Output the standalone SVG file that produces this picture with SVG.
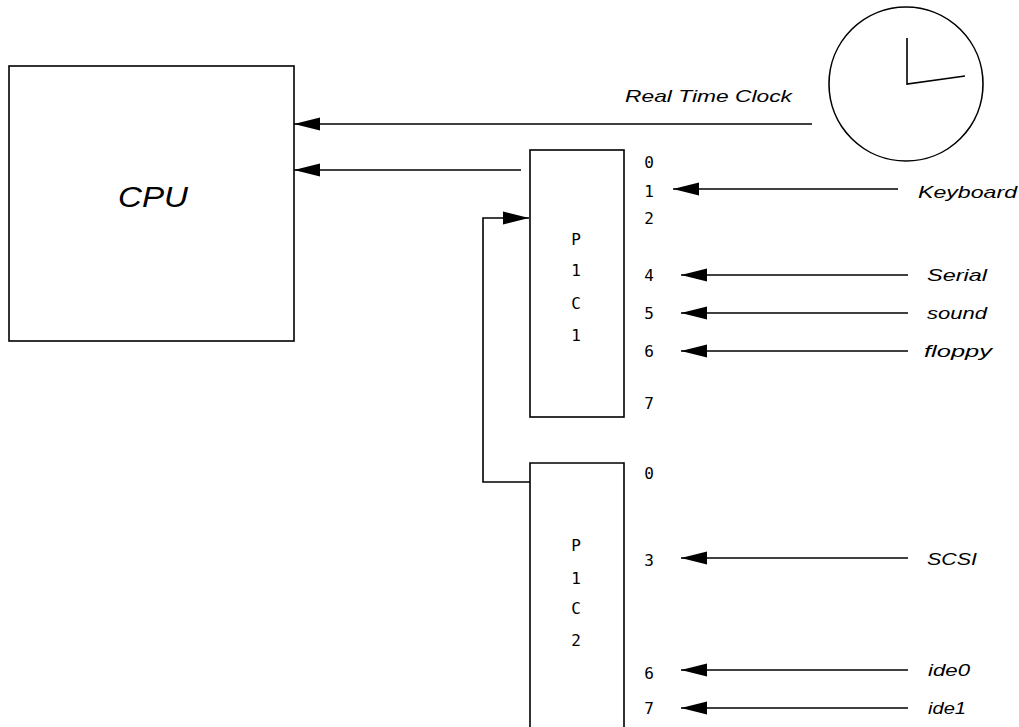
<svg xmlns="http://www.w3.org/2000/svg" width="1019" height="727" viewBox="0 0 1019 727">
<style>
.box{fill:none;stroke:#000;stroke-width:1.6}
.ln{fill:none;stroke:#000;stroke-width:1.6;marker-end:url(#ah)}
.lbl{font-family:"Liberation Sans",Arial,sans-serif;font-style:italic;font-size:17px;fill:#000}
.num{font-family:"DejaVu Sans Mono","Liberation Mono",monospace;font-size:16px;fill:#000;text-anchor:middle}
</style>
<defs>
<marker id="ah" markerUnits="userSpaceOnUse" markerWidth="28" markerHeight="16" refX="26" refY="8" orient="auto" viewBox="0 0 28 16">
<path d="M26,8 L14,5 L0,1.5 L0,14.5 L14,11 Z" fill="#000"/>
</marker>
</defs>
<rect width="1019" height="727" fill="#fff"/>
<g id="cpu">
<rect class="box" x="9" y="66" width="285" height="275"/>
<text x="153" y="207" font-family="Liberation Sans,Arial,sans-serif" font-style="italic" font-size="30" text-anchor="middle" textLength="70" lengthAdjust="spacingAndGlyphs">CPU</text>
</g>
<g id="clock">
<circle class="box" cx="906" cy="84" r="77"/>
<polyline class="box" points="907,38 907,84 965,76"/>
</g>
<g id="pic1">
<rect class="box" x="530" y="150" width="94" height="267"/>
<text class="num" x="576" y="245">P</text>
<text class="num" x="576" y="276">1</text>
<text class="num" x="576" y="309">C</text>
<text class="num" x="576" y="341">1</text>
<text class="num" x="649" y="168">0</text>
<text class="num" x="649" y="197">1</text>
<text class="num" x="649" y="224">2</text>
<text class="num" x="649" y="281">4</text>
<text class="num" x="649" y="319">5</text>
<text class="num" x="649" y="357">6</text>
<text class="num" x="649" y="409">7</text>
</g>
<g id="pic2">
<path class="box" d="M530,730 V463 H624 V730"/>
<text class="num" x="576" y="551">P</text>
<text class="num" x="576" y="584">1</text>
<text class="num" x="576" y="614">C</text>
<text class="num" x="576" y="646">2</text>
<text class="num" x="649" y="479">0</text>
<text class="num" x="649" y="566">3</text>
<text class="num" x="649" y="679">6</text>
<text class="num" x="649" y="714">7</text>
</g>
<g id="labels">
<text class="lbl" x="625" y="102" textLength="167" lengthAdjust="spacingAndGlyphs">Real Time Clock</text>
<text class="lbl" x="918" y="198" textLength="99" lengthAdjust="spacingAndGlyphs">Keyboard</text>
<text class="lbl" x="927" y="281" textLength="60" lengthAdjust="spacingAndGlyphs">Serial</text>
<text class="lbl" x="927" y="319" textLength="60" lengthAdjust="spacingAndGlyphs">sound</text>
<text class="lbl" x="924" y="357" textLength="68" lengthAdjust="spacingAndGlyphs">floppy</text>
<text class="lbl" x="927" y="565" textLength="50" lengthAdjust="spacingAndGlyphs">SCSI</text>
<text class="lbl" x="928" y="676" textLength="42" lengthAdjust="spacingAndGlyphs">ide0</text>
<text class="lbl" x="928" y="714" textLength="38" lengthAdjust="spacingAndGlyphs">ide1</text>
</g>
<g id="connectors">
<line class="ln" x1="812" y1="124" x2="294" y2="124"/>
<line class="ln" x1="521" y1="170" x2="294" y2="170"/>
<line class="ln" x1="898" y1="189" x2="673" y2="189"/>
<line class="ln" x1="908" y1="275" x2="681" y2="275"/>
<line class="ln" x1="908" y1="313" x2="681" y2="313"/>
<line class="ln" x1="908" y1="351" x2="681" y2="351"/>
<line class="ln" x1="908" y1="558" x2="681" y2="558"/>
<line class="ln" x1="908" y1="670" x2="681" y2="670"/>
<line class="ln" x1="908" y1="708" x2="681" y2="708"/>
<polyline class="ln" points="530,482 483,482 483,218 529,218"/>
</g>
</svg>
